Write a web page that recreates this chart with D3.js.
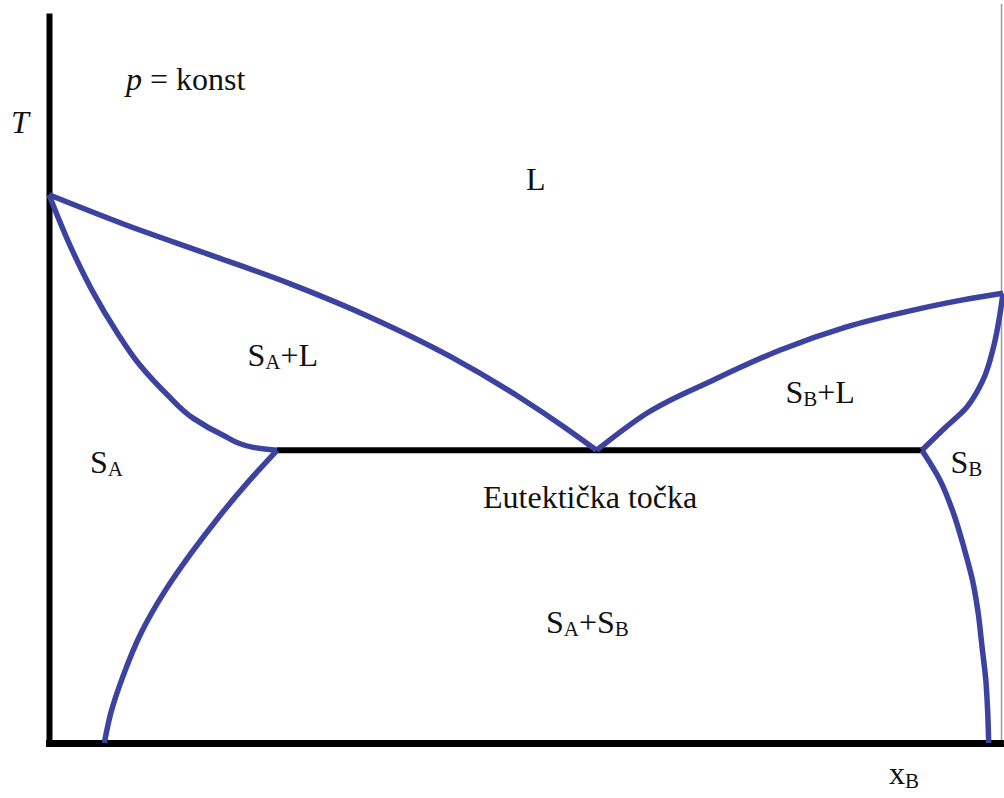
<!DOCTYPE html>
<html>
<head>
<meta charset="utf-8">
<script src="https://cdn.jsdelivr.net/npm/d3@7/dist/d3.min.js"></script>
<style>
  html, body { margin: 0; padding: 0; background: #fff; }
  svg { display: block; }
</style>
</head>
<body>
<div id="chart"></div>
<script>
//--------------------------------------------------
// Podaci (x_B, T) - očitano sa slike
//--------------------------------------------------
const liquidusA = [[0, 75.1], [0.078, 71.1], [0.166, 67.0], [0.253, 62.9], [0.339, 58.2], [0.420, 53.0], [0.494, 47.3], [0.541, 43.2], [0.574, 40.1]];
const liquidusB = [[0.574, 40.1], [0.627, 45.2], [0.696, 49.7], [0.766, 53.8], [0.836, 57.0], [0.906, 59.3], [0.958, 60.7], [1.0, 61.6]];
const solidusA  = [[0, 75.1], [0.025, 67.3], [0.046, 61.8], [0.071, 56.3], [0.095, 51.8], [0.124, 47.7], [0.151, 44.5], [0.182, 42.2], [0.214, 40.5], [0.239, 40.1]];
const solvusA   = [[0.239, 40.1], [0.209, 35.8], [0.177, 30.8], [0.149, 26.0], [0.121, 20.7], [0.097, 15.2], [0.078, 9.3], [0.065, 4.2], [0.058, 0]];
const solidusB  = [[1.0, 61.6], [0.997, 58.9], [0.990, 54.2], [0.979, 49.7], [0.962, 46.0], [0.937, 42.9], [0.915, 40.1]];
const solvusB   = [[0.915, 40.1], [0.934, 36.0], [0.948, 31.5], [0.959, 26.8], [0.968, 22.3], [0.974, 17.8], [0.978, 13.2], [0.982, 8.6], [0.984, 4.1], [0.985, 0]];
const eutectic  = [[0.239, 40.1], [0.915, 40.1]];

// oznake područja: [tekst, indeks, nastavak, indeks2, x_B, T]
const regionLabels = [
  ["L", "", "", "", 0.500, 75.8],
  ["S", "A", "+L", "", 0.208, 51.6],
  ["S", "B", "+L", "", 0.772, 46.6],
  ["S", "A", "", "", 0.043, 37.0],
  ["S", "B", "", "", 0.945, 37.0],
  ["Eutektička točka", "", "", "", 0.455, 32.2],
  ["S", "A", "+S", "B", 0.521, 15.1]
];

//--------------------------------------------------
// Stil
//--------------------------------------------------
const BLUE = "#3c429f";
const FONT = "'Liberation Serif', 'Times New Roman', Times, serif";
const W = 1004, H = 798;

const svg = d3.select("#chart").append("svg")
  .attr("width", W)
  .attr("height", H);

const x = d3.scaleLinear().domain([0, 1]).range([49, 1003]);
const y = d3.scaleLinear().domain([0, 100]).range([743, 13]);

// rub slike (siva linija desno)
svg.append("line")
  .attr("x1", 1001.5).attr("x2", 1001.5)
  .attr("y1", 4).attr("y2", 745)
  .attr("stroke", "#9a9a9a")
  .attr("stroke-width", 1.5);

// osi bez oznaka
const axL = svg.append("g")
  .attr("transform", `translate(${x(0)},0)`)
  .call(d3.axisLeft(y).ticks(0).tickSizeOuter(0));
axL.select(".domain").attr("stroke", "#000").attr("stroke-width", 6);

const axB = svg.append("g")
  .attr("transform", `translate(0,${y(0)})`)
  .call(d3.axisBottom(x).ticks(0).tickSizeOuter(0));
axB.select(".domain").attr("stroke", "#000").attr("stroke-width", 7)
  .attr("stroke-linecap", "square");

// eutektička linija
svg.append("path")
  .attr("d", d3.line().x(d => x(d[0])).y(d => y(d[1]))(eutectic))
  .attr("fill", "none")
  .attr("stroke", "#000")
  .attr("stroke-width", 6);

// krivulje
const lineX = d3.line().x(d => x(d[0])).y(d => y(d[1])).curve(d3.curveMonotoneX);
const lineY = d3.line().x(d => x(d[0])).y(d => y(d[1])).curve(d3.curveMonotoneY);

const curves = [
  [liquidusA, lineX], [liquidusB, lineX],
  [solidusA, lineY], [solvusA, lineY],
  [solidusB, lineY], [solvusB, lineY]
];

svg.append("g")
  .selectAll("path")
  .data(curves)
  .join("path")
  .attr("d", d => d[1](d[0]))
  .attr("fill", "none")
  .attr("stroke", BLUE)
  .attr("stroke-width", 5.5)
  .attr("stroke-linejoin", "round");

// tekstovi
const lbl = svg.append("g")
  .selectAll("text")
  .data(regionLabels)
  .join("text")
  .attr("x", d => x(d[4]))
  .attr("y", d => y(d[5]))
  .attr("font-family", FONT)
  .attr("font-size", 32)
  .attr("fill", "#111");

lbl.each(function(d) {
  const t = d3.select(this);
  t.append("tspan").text(d[0]);
  if (d[1]) t.append("tspan").attr("font-size", 21).attr("dy", 3).text(d[1]);
  if (d[2]) t.append("tspan").attr("dy", d[1] ? -3 : 0).text(d[2]);
  if (d[3]) t.append("tspan").attr("font-size", 21).attr("dy", 3).text(d[3]);
});

// p = konst
const pk = svg.append("text").attr("x", 126).attr("y", 90)
  .attr("font-family", FONT).attr("font-size", 32).attr("fill", "#111");
pk.append("tspan").attr("font-style", "italic").text("p");
pk.append("tspan").text(" = konst");

// T
svg.append("text")
  .attr("x", 11).attr("y", 133)
  .attr("font-family", FONT)
  .attr("font-size", 32)
  .attr("font-style", "italic")
  .attr("fill", "#111")
  .text("T");

// x_B (malo podignuto da stane u sliku)
const xb = svg.append("text").attr("x", 889).attr("y", 784)
  .attr("font-family", FONT).attr("font-size", 32).attr("fill", "#111");
xb.append("tspan").text("x");
xb.append("tspan").attr("font-size", 21).attr("dy", 4).text("B");
</script>
</body>
</html>
